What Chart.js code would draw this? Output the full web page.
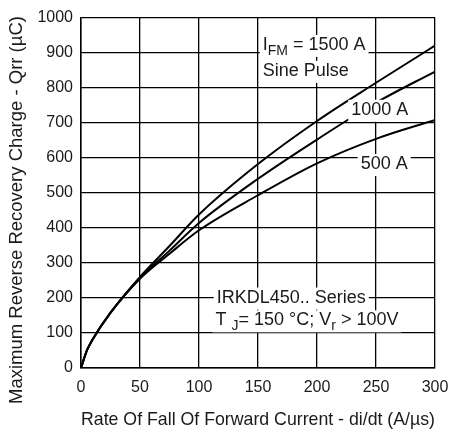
<!DOCTYPE html>
<html>
<head>
<meta charset="utf-8">
<script src="https://cdn.jsdelivr.net/npm/chart.js@4"></script>
<style>
  html, body { margin: 0; padding: 0; background: #fff; }
  #wrap { width: 449px; height: 434px; }
</style>
</head>
<body>
<div id="wrap"><canvas id="chartQrr"></canvas></div>
<script>
const diDt = [0, 5, 10, 25, 50, 75, 100, 150, 200, 250, 300];
const qrr1500 = [0, 50, 82, 158, 260, 348, 438, 582, 705, 814, 920];
const qrr1000 = [0, 50, 82, 157, 256, 335, 414, 540, 652, 757, 846];
const qrr500 = [0, 50, 83, 158, 255, 326, 393, 493, 584, 654, 708];
const xTicks = [0, 50, 100, 150, 200, 250, 300];
const yTicks = [0, 100, 200, 300, 400, 500, 600, 700, 800, 900, 1000];

const FONT = "'Liberation Sans', Arial, sans-serif";
const INK = "#1a1a1a";
const yTitle = "Maximum Reverse Recovery Charge - Qrr (µC)";

const toPoints = (vals) => diDt.map((x, i) => ({ x: x, y: vals[i] }));

// text notes, placed in data units
const notes = [
  { x: 154, y: 922, runs: [["I"], ["FM", true], [" = 1500 A"]] },
  { x: 154, y: 848, runs: [["Sine Pulse"]] },
  { x: 229, y: 737, runs: [["1000 A"]] },
  { x: 237, y: 582, runs: [["500 A"]] },
  { x: 115, y: 201, runs: [["IRKDL450.. Series"]] },
  { x: 114, y: 136, runs: [["T "], ["J", true], ["= 150 °C; V"], ["r", true], [" > 100V"]] },
];

const notesPlugin = {
  id: "notes",
  afterDatasetsDraw(chart) {
    const ctx = chart.ctx;
    const xs = chart.scales.x;
    const ys = chart.scales.y;
    ctx.save();
    ctx.textBaseline = "middle";
    notes.forEach((n) => {
      const px = xs.getPixelForValue(n.x);
      const py = ys.getPixelForValue(n.y);
      let w = 0;
      n.runs.forEach((r) => {
        ctx.font = (r[1] ? "14px " : "18px ") + FONT;
        w += ctx.measureText(r[0]).width;
      });
      ctx.fillStyle = "#fff";
      ctx.fillRect(px - 3, py - 10, w + 6, 22);
      let cx = px;
      n.runs.forEach((r) => {
        ctx.font = (r[1] ? "14px " : "18px ") + FONT;
        ctx.fillStyle = INK;
        ctx.fillText(r[0], cx, r[1] ? py + 6 : py);
        cx += ctx.measureText(r[0]).width;
      });
    });
    // y axis title, centred a little below the plot middle like the original
    ctx.translate(17, 210);
    ctx.rotate(-Math.PI / 2);
    ctx.textAlign = "center";
    ctx.font = "18.5px " + FONT;
    ctx.fillStyle = INK;
    ctx.fillText(yTitle, 0, 0);
    ctx.restore();
  },
};

const mkSet = (label, vals) => ({
  label: label,
  data: toPoints(vals),
  borderColor: "#000",
  backgroundColor: "#000",
  borderWidth: 2,
  pointRadius: 0,
  cubicInterpolationMode: "monotone",
  fill: false,
});

const ctx = document.getElementById("chartQrr").getContext("2d");
const myChart = new Chart(ctx, {
  type: "line",
  data: {
    datasets: [
      mkSet("1500 A", qrr1500),
      mkSet("1000 A", qrr1000),
      mkSet("500 A", qrr500),
    ],
  },
  options: {
    responsive: true,
    maintainAspectRatio: false,
    animation: false,
    layout: { padding: { top: 15, right: 0, left: 0, bottom: 0 } },
    plugins: {
      legend: { display: false },
      tooltip: { enabled: false },
    },
    scales: {
      x: {
        type: "linear",
        min: 0,
        max: 300,
        afterBuildTicks: (s) => { s.ticks = xTicks.map((v) => ({ value: v })); },
        afterFit: (s) => { s.height = 66; s.paddingRight = 14; },
        grid: { color: "#000", lineWidth: 1.3, drawTicks: false },
        border: { color: "#000", width: 1.5 },
        ticks: { color: INK, font: { family: FONT, size: 16 }, padding: 10, callback: (v) => String(v) },
        title: {
          display: true,
          text: "Rate Of Fall Of Forward Current - di/dt (A/µs)",
          color: INK,
          font: { family: FONT, size: 18.5 },
          padding: { top: 0, bottom: 3 },
        },
      },
      y: {
        type: "linear",
        min: 0,
        max: 1000,
        afterBuildTicks: (s) => { s.ticks = yTicks.map((v) => ({ value: v })); },
        afterFit: (s) => { s.width = 81; },
        grid: { color: "#000", lineWidth: 1.3, drawTicks: false },
        border: { color: "#000", width: 1.5 },
        ticks: { color: INK, font: { family: FONT, size: 16 }, padding: 8, callback: (v) => String(v) },
        title: { display: false },
      },
    },
  },
  plugins: [notesPlugin],
});
</script>
</body>
</html>
